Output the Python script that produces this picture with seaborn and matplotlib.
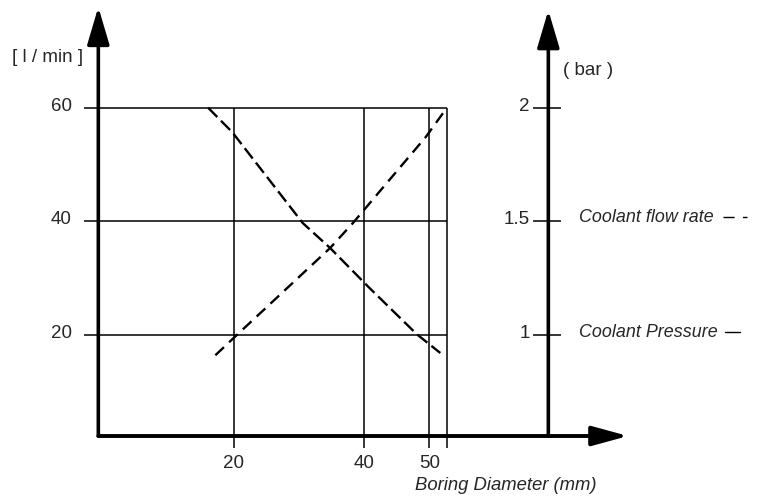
import matplotlib
matplotlib.use("Agg")
import matplotlib.pyplot as plt
import seaborn as sns
import pandas as pd

# ---------------- data ----------------
flow_x = [16.1, 19.8, 30.6, 34.8, 40.8, 48.1, 51.7]      # decreasing dashed curve
flow_y = [60.0, 55.7, 39.7, 35.3, 28.3, 20.1, 16.8]
press_x = [17.2, 20.8, 34.8, 38.3, 49.5, 52.7]            # increasing dashed curve
press_y = [16.4, 20.3, 35.3, 39.7, 54.9, 60.0]

x_ticks = [20, 40, 50]
x_border = 52.7
y_ticks = [20, 40, 60]
bar_ticks = [1, 1.5, 2]
bar_labels = ["1", "1.5", "2"]

sns.set_style("white")
plt.rcParams["font.family"] = ["Liberation Sans", "DejaVu Sans"]

fig = plt.figure(figsize=(7.59, 4.99), dpi=100)
ax = fig.add_axes([0, 0, 1, 1])

# pixel-derived layout constants (data units)
left_x = -0.75
base_y = 2.17
right_x = 68.27
grid_left = -2.94
fs = 13.5

# grid lines
ax.hlines(y_ticks, grid_left, x_border, color="black", lw=1.1, zorder=1)
ax.vlines(x_ticks + [x_border], 0.0, 60, color="black", lw=1.1, zorder=1)

# curves
df_flow = pd.DataFrame({"d": flow_x, "v": flow_y})
df_press = pd.DataFrame({"d": press_x, "v": press_y})
sns.lineplot(data=df_flow, x="d", y="v", ax=ax, color="black", lw=1.7,
             sort=False, estimator=None, linestyle=(0, (5.5, 2.2)), legend=False)
sns.lineplot(data=df_press, x="d", y="v", ax=ax, color="black", lw=1.7,
             sort=False, estimator=None, linestyle=(0, (5.0, 3.0)), legend=False)
ax.set_xlim(-15.83, 100.58)
ax.set_ylim(-8.93, 79.0)
ax.set_axis_off()

# axes with arrows
arrow = dict(arrowstyle="-|>,head_length=2.3,head_width=0.68", lw=2.6,
             color="black", shrinkA=0, shrinkB=0, mutation_scale=10)
ax.annotate("", xy=(left_x, 77.76), xytext=(left_x, base_y), arrowprops=arrow)
ax.annotate("", xy=(right_x, 77.2), xytext=(right_x, base_y), arrowprops=arrow)
arrow_x = dict(arrowstyle="-|>,head_length=2.2,head_width=0.6", lw=2.8,
               color="black", shrinkA=0, shrinkB=0, mutation_scale=10)
ax.annotate("", xy=(80.5, base_y), xytext=(left_x, base_y), arrowprops=arrow_x)

# left tick labels
for v in y_ticks:
    ax.text(-4.79, v + 0.3, str(v), ha="right", va="center", fontsize=fs)
ax.text(-8.47, 68.95, "[ l / min ]", ha="center", va="center", fontsize=fs)

# bottom tick labels
for v in x_ticks:
    ax.text(v, -1.18, str(v), ha="center", va="top", fontsize=fs)
ax.text(47.8, -5.0, "Boring Diameter (mm)", ha="left", va="top",
        fontsize=13.3, style="italic")

# right (bar) axis: 20 l/min <-> 1 bar, 60 l/min <-> 2 bar
bar_to_y = lambda b: (b - 0.5) * 40
ax.hlines([bar_to_y(b) for b in bar_ticks], 65.9, 70.2, color="black", lw=1.1)
for b, lab in zip(bar_ticks, bar_labels):
    ax.text(65.4, bar_to_y(b) + 0.3, lab, ha="right", va="center", fontsize=fs)
ax.text(74.36, 66.66, "( bar )", ha="center", va="center", fontsize=fs)

# legend texts
ax.text(72.97, 39.9, "Coolant flow rate", ha="left", va="baseline",
        fontsize=12.9, style="italic")
ax.text(72.97, 19.7, "Coolant Pressure", ha="left", va="baseline",
        fontsize=12.9, style="italic")
ax.plot([95.0, 98.7], [40.8, 40.8], color="black", lw=1.0, linestyle=(0, (8, 6)))
ax.plot([95.4, 97.7], [20.5, 20.5], color="black", lw=1.0)

fig.savefig("out.png", dpi=100)
